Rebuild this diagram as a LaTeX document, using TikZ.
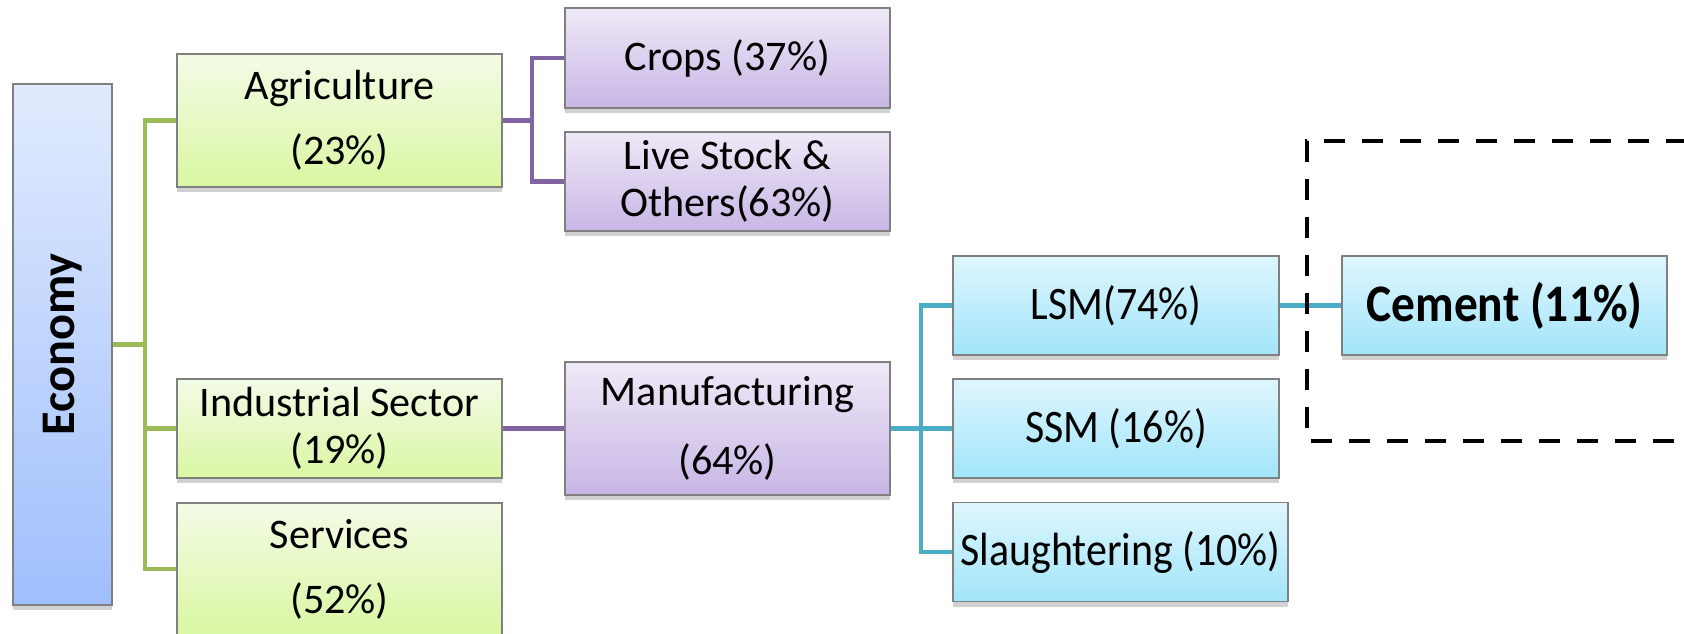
\documentclass[tikz,border=0pt]{standalone}
\usepackage{fontspec}
\setmainfont{Carlito}
\newfontfamily\narrowfont[FakeStretch=0.9]{Carlito}
\usepackage{tikz}
\usetikzlibrary{calc}
\usetikzlibrary{shadows}
\definecolor{lgreen}{HTML}{9BBB59}
\definecolor{lpurple}{HTML}{8064A2}
\definecolor{lcyan}{HTML}{4BACC6}
\definecolor{gtop}{HTML}{F3FBE6}
\definecolor{gbot}{HTML}{DAF7A2}
\definecolor{ptop}{HTML}{EFE9F7}
\definecolor{pbot}{HTML}{C8B6E5}
\definecolor{ctop}{HTML}{DEF6FD}
\definecolor{cbot}{HTML}{A2E5FA}
\definecolor{etop}{HTML}{E1EBFE}
\definecolor{ebot}{HTML}{9FBFFC}
\tikzset{box/.style={rectangle,draw=black!50,line width=0.8pt,inner sep=2pt,align=center,
  drop shadow={shadow xshift=0pt,shadow yshift=-0.1cm,opacity=0.3,fill=black!60},
  font=\fontsize{24}{27}\selectfont}}
\tikzset{gbox/.style={box,top color=gtop,bottom color=gbot,minimum width=6.5cm}}
\tikzset{pbox/.style={box,top color=ptop,bottom color=pbot,minimum width=6.5cm}}
\tikzset{cbox/.style={box,top color=ctop,bottom color=cbot,minimum width=6.52cm,minimum height=1.98cm,
  font=\narrowfont\fontsize{26.5}{29}\selectfont}}
\tikzset{gline/.style={draw=lgreen,line width=2.8pt}}
\tikzset{pline/.style={draw=lpurple,line width=2.8pt}}
\tikzset{cline/.style={draw=lcyan,line width=2.8pt}}

\begin{document}
\begin{tikzpicture}
\useasboundingbox (0,0) rectangle (33.68,-12.66);

\node[box,top color=etop,bottom color=ebot,minimum width=1.98cm,minimum height=10.42cm,
  font=\fontsize{27.5}{30}\selectfont\bfseries] (eco) at (1.25,-6.89) {\rotatebox{90}{Economy}};

\node[gbox,minimum height=2.66cm] (agri) at (6.79,-2.41) {Agriculture\\[10pt](23\%)};
\node[gbox,minimum height=1.98cm] (ind) at (6.79,-8.57) {Industrial Sector\\(19\%)};
\node[gbox,minimum height=2.64cm] (serv) at (6.79,-11.38) {Services\\[10pt](52\%)};

\node[pbox,minimum height=2.0cm] (crops) at (14.55,-1.16) {Crops (37\%)};
\node[pbox,minimum height=1.98cm] (live) at (14.55,-3.63) {Live Stock \&\\Others(63\%)};
\node[pbox,minimum height=2.66cm] (manu) at (14.55,-8.57) {Manufacturing\\[12pt](64\%)};

\node[cbox] (lsm) at (22.32,-6.11) {LSM(74\%)};
\node[cbox] (ssm) at (22.32,-8.57) {SSM (16\%)};
\node[cbox,minimum width=6.7cm] (slau) at (22.41,-11.04) {Slaughtering (10\%)};
\node[cbox,minimum width=6.5cm,font=\narrowfont\bfseries\fontsize{30}{33}\selectfont] (cem) at (30.09,-6.11) {Cement (11\%)};

\coordinate (gbus) at (2.9,-6.89);
\coordinate (pbus) at (10.64,-2.41);
\coordinate (cbus) at (18.42,-8.57);

\draw[gline] (eco.east) -- (gbus);
\draw[gline] (gbus) |- (agri.west);
\draw[gline] (gbus) |- (ind.west);
\draw[gline] (gbus) |- (serv.west);

\draw[pline] (agri.east) -- (pbus);
\draw[pline] (pbus) |- (crops.west);
\draw[pline] (pbus) |- (live.west);
\draw[pline] (ind.east) -- (manu.west);

\draw[cline] (manu.east) -- (cbus);
\draw[cline] (cbus) |- (lsm.west);
\draw[cline] (cbus) |- (ssm.west);
\draw[cline] (cbus) |- (slau.west);
\draw[cline] (lsm.east) -- (cem.west);

% frame round the cement box
\draw[line width=2.8pt,dash pattern=on 4.2mm off 3.4mm] (34.5,-2.82) -- (26.14,-2.82) -- (26.14,-8.82) -- (34.5,-8.82);

\end{tikzpicture}
\end{document}
